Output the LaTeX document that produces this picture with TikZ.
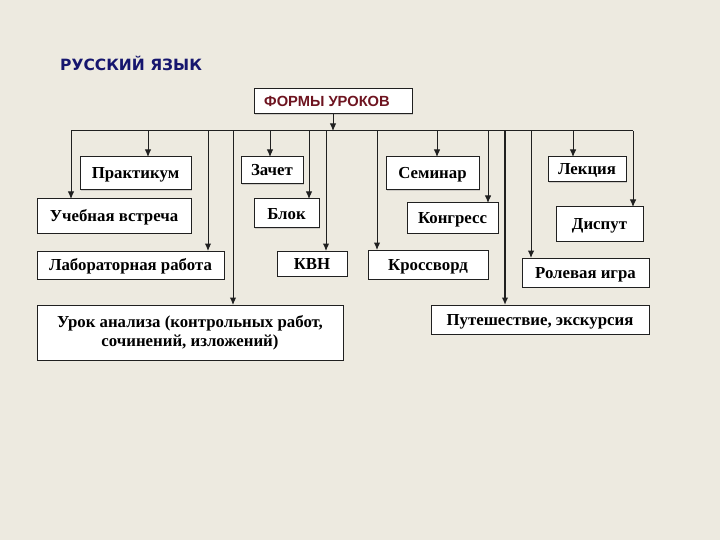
\documentclass[tikz,border=0pt]{standalone}
\usepackage{fontspec}
\setmainfont{Liberation Serif}
\newfontfamily\titlefont{DejaVu Sans}
\newfontfamily\headfont{Liberation Sans}
\usepackage{tikz}
\usetikzlibrary{arrows.meta,shadows}
\definecolor{rzpaper}{HTML}{EDEAE0}
\definecolor{rznavy}{HTML}{16166E}
\definecolor{rzwine}{HTML}{6E1420}
\definecolor{rzline}{HTML}{202020}

\begin{document}
\begin{tikzpicture}[x=1pt,y=-1pt,
  form/.style={draw=rzline,line width=1pt,fill=white,align=center,inner sep=0pt,outer sep=0pt,
    font=\fontsize{16.8}{19}\selectfont\bfseries,
    drop shadow={shadow xshift=1.2pt,shadow yshift=-1.2pt,opacity=0.3}},
  oneline/.style={form,text height=11pt,text depth=0pt},
  bus/.style={line width=1pt,rzline},
  arr/.style={-{Latex[length=7.5pt,width=6.5pt]},line width=1pt,rzline}]
  \fill[rzpaper] (0,0) rectangle (720,540);
  \node[anchor=west,font=\titlefont\fontsize{15.5}{17}\selectfont\bfseries,text=rznavy,inner sep=0pt]
    (title) at (60,63) {РУССКИЙ ЯЗЫК};
  \node[oneline,minimum width=158,minimum height=25,font=\headfont\fontsize{14.7}{17}\selectfont\bfseries,
    text=rzwine] (head) at (333,101.5) {ФОРМЫ УРОКОВ\hspace{12pt}};
  % left group
  \node[oneline,minimum width=111,minimum height=33] (prakt) at (135.5,173.5) {Практикум};
  \node[oneline,minimum width=62,minimum height=27] (zachet) at (272,170.5) {Зачет};
  \node[oneline,minimum width=154,minimum height=34] (vstrecha) at (114,216) {Учебная встреча};
  \node[oneline,minimum width=65,minimum height=29] (blok) at (286.5,213.5) {Блок};
  \node[oneline,minimum width=187,minimum height=28] (labor) at (130.5,265) {Лабораторная работа};
  \node[oneline,minimum width=70,minimum height=25] (kvn) at (312,263.5) {КВН};
  \node[form,minimum width=306,minimum height=55] (analiz) at (190,332.5)
    {Урок анализа (контрольных работ,\\сочинений, изложений)};
  % right group
  \node[oneline,minimum width=93,minimum height=33] (seminar) at (432.5,173.5) {Семинар};
  \node[oneline,minimum width=91,minimum height=30] (kongress) at (452.5,218) {Конгресс};
  \node[oneline,minimum width=78,minimum height=25] (lekcia) at (587,169.5) {Лекция};
  \node[oneline,minimum width=87,minimum height=34] (disput) at (599.5,224) {Диспут};
  \node[oneline,minimum width=120,minimum height=29] (krossv) at (428,264.5) {Кроссворд};
  \node[oneline,minimum width=127,minimum height=29] (rolev) at (585.5,272.5) {Ролевая игра};
  \node[oneline,minimum width=218,minimum height=29] (puteshest) at (540,319.5) {Путешествие, экскурсия};
  % bus
  \coordinate (hub) at (333,131);
  \coordinate (bVstr) at (71,131);
  \coordinate (bPrakt) at (148,131);
  \coordinate (bLabor) at (208,131);
  \coordinate (bAnaliz) at (233,131);
  \coordinate (bZachet) at (270,131);
  \coordinate (bBlok) at (309,131);
  \coordinate (bKvn) at (326,131);
  \coordinate (bKrossv) at (377,131);
  \coordinate (bSeminar) at (437,131);
  \coordinate (bKongr) at (488,131);
  \coordinate (bPutesh) at (505,131);
  \coordinate (bRolev) at (531,131);
  \coordinate (bLekcia) at (573,131);
  \coordinate (bDisput) at (633,131);
  \draw[arr] (head.south) -- (hub);
  \draw[bus] (bVstr) -- (bDisput);
  \draw[arr] (bVstr) -- (bVstr |- vstrecha.north);
  \draw[arr] (bPrakt) -- (bPrakt |- prakt.north);
  \draw[arr] (bLabor) -- (bLabor |- labor.north);
  \draw[arr] (bAnaliz) -- (bAnaliz |- analiz.north);
  \draw[arr] (bZachet) -- (bZachet |- zachet.north);
  \draw[arr] (bBlok) -- (bBlok |- blok.north);
  \draw[arr] (bKvn) -- (bKvn |- kvn.north);
  \draw[arr] (bKrossv) -- (bKrossv |- krossv.north);
  \draw[arr] (bSeminar) -- (bSeminar |- seminar.north);
  \draw[arr] (bKongr) -- (bKongr |- kongress.north);
  \draw[arr,line width=1.5pt] (bPutesh) -- (bPutesh |- puteshest.north);
  \draw[arr] (bRolev) -- (bRolev |- rolev.north);
  \draw[arr] (bLekcia) -- (bLekcia |- lekcia.north);
  \draw[arr] (bDisput) -- (bDisput |- disput.north);
\end{tikzpicture}
\end{document}
